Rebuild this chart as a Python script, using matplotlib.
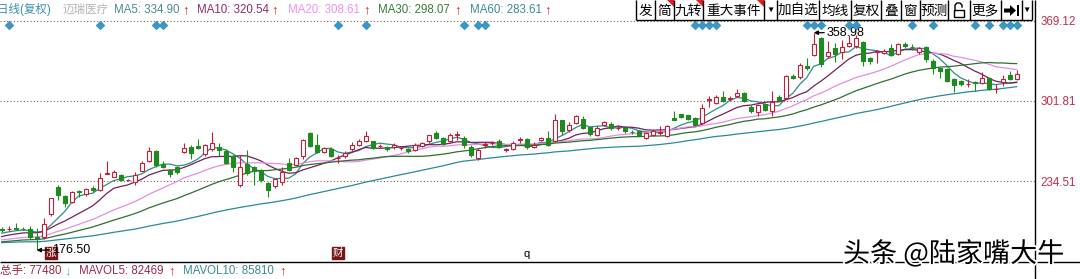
import matplotlib
import matplotlib.pyplot as plt
import matplotlib.patheffects as pe
import numpy as np
import pandas as pd
from matplotlib.patches import Polygon, Rectangle

matplotlib.use("Agg")

plt.rcParams["font.family"] = ["Liberation Sans", "Noto Sans CJK SC", "DejaVu Sans"]

# daily candles (oldest first)
opens = [194.0, 194.2, 195.2, 194.6, 194.5, 187.5, 187.8, 206.6, 229.7, 221.8,
         217.0, 225.8, 223.5, 228.9, 226.9, 240.6, 238.2, 239.6, 235.2, 233.9,
         243.2, 251.7, 259.4, 248.9, 243.8, 246.6, 259.1, 263.4, 264.0, 257.5,
         261.4, 263.4, 259.9, 255.1, 230.9, 248.9, 246.1, 243.8, 232.6, 230.3,
         233.9, 250.0, 248.0, 255.1, 274.7, 264.9, 259.1, 261.6, 253.5, 255.1,
         261.3, 264.9, 267.8, 267.8, 263.9, 263.4, 262.8, 262.2, 261.6, 260.8,
         264.1, 267.8, 274.7, 270.6, 268.4, 273.2, 270.6, 263.4, 253.7, 264.8,
         266.2, 268.4, 260.6, 261.6, 269.0, 269.7, 263.4, 268.8, 271.0, 267.8,
         285.3, 276.9, 283.4, 286.2, 279.9, 273.1, 281.7, 282.5, 279.1, 279.1,
         275.6, 276.8, 270.6, 273.5, 275.2, 272.6, 287.0, 290.4, 289.5, 287.0,
         283.4, 302.9, 300.3, 305.0, 303.5, 305.9, 308.7, 296.9, 292.3, 298.9,
         293.2, 305.4, 304.5, 322.8, 321.5, 331.3, 340.3, 354.5, 339.2, 346.0,
         342.6, 348.2, 347.7, 351.1, 337.5, 342.9, 342.0, 346.0, 341.2, 349.6,
         347.1, 342.6, 346.9, 335.5, 329.1, 328.5, 320.0, 318.6, 315.6, 317.4,
         316.6, 320.6, 311.4, 317.2, 323.4, 320.0]
highs = [195.5, 196.5, 199.0, 196.0, 196.5, 195.0, 203.8, 220.5, 231.0, 222.5,
         226.0, 227.0, 228.6, 230.0, 241.5, 250.9, 243.5, 240.5, 236.2, 242.4,
         251.0, 263.0, 260.5, 251.0, 244.5, 247.5, 266.8, 264.5, 269.8, 265.5,
         275.4, 266.5, 261.0, 256.0, 256.5, 260.2, 247.0, 245.0, 234.0, 237.0,
         246.6, 254.0, 254.5, 270.0, 275.5, 274.0, 263.0, 263.0, 256.5, 259.5,
         267.0, 270.0, 276.2, 268.5, 265.5, 264.0, 266.5, 263.5, 262.5, 266.5,
         267.5, 273.5, 276.8, 271.5, 274.5, 276.3, 272.5, 264.5, 262.0, 267.0,
         268.0, 269.5, 262.5, 268.5, 271.5, 271.0, 267.5, 271.5, 276.5, 290.4,
         286.0, 284.0, 289.5, 289.0, 281.0, 280.5, 285.0, 284.0, 281.5, 280.5,
         277.0, 277.5, 276.0, 277.5, 281.0, 281.5, 293.2, 291.0, 290.0, 288.0,
         298.9, 305.9, 306.5, 310.1, 305.5, 312.1, 309.5, 298.0, 299.0, 300.0,
         310.1, 307.0, 323.5, 324.5, 333.5, 337.5, 358.98, 355.5, 351.6, 350.0,
         352.5, 356.7, 357.0, 352.0, 338.5, 344.5, 345.0, 349.6, 350.5, 351.5,
         349.5, 347.0, 348.0, 336.5, 330.0, 329.5, 321.0, 319.5, 320.0, 318.6,
         325.7, 321.5, 315.8, 323.4, 327.1, 327.9]
lows = [191.5, 192.8, 193.0, 193.2, 185.8, 176.5, 186.0, 205.5, 218.4, 212.8,
        216.0, 221.0, 221.8, 225.5, 226.0, 240.0, 237.5, 234.5, 234.8, 231.1,
        242.5, 250.5, 246.5, 245.5, 237.6, 240.0, 258.0, 252.9, 261.0, 255.5,
        260.0, 255.7, 248.5, 242.4, 229.7, 239.5, 231.1, 234.0, 220.7, 228.5,
        231.5, 242.5, 247.0, 253.0, 263.0, 258.0, 258.0, 254.5, 249.5, 253.5,
        260.0, 264.0, 267.0, 261.0, 262.5, 260.0, 261.0, 260.5, 258.0, 259.5,
        263.0, 266.5, 269.5, 264.5, 267.0, 269.2, 262.5, 254.5, 252.5, 262.5,
        264.5, 262.0, 258.5, 260.5, 266.0, 261.5, 262.0, 268.0, 264.0, 267.0,
        273.5, 276.0, 282.5, 278.0, 272.5, 272.0, 280.5, 277.5, 277.0, 275.0,
        274.0, 272.0, 269.5, 272.5, 273.5, 271.5, 285.8, 287.5, 286.0, 280.5,
        282.5, 296.9, 299.5, 300.5, 302.0, 305.0, 300.5, 291.5, 288.9, 293.0,
        288.9, 301.5, 303.5, 320.0, 320.5, 328.0, 339.5, 329.9, 338.0, 334.1,
        337.0, 347.0, 346.5, 331.3, 332.7, 333.6, 341.0, 339.5, 340.0, 346.5,
        344.5, 341.5, 334.1, 324.3, 320.6, 317.5, 309.3, 314.5, 313.0, 310.1,
        315.5, 310.5, 308.2, 314.4, 319.0, 319.0]
closes = [193.5, 194.6, 194.6, 194.2, 187.4, 187.0, 198.7, 219.9, 222.7, 216.2,
          225.2, 225.4, 227.5, 226.9, 236.8, 241.2, 241.9, 235.4, 235.6, 239.6,
          249.9, 259.4, 248.0, 246.1, 240.4, 242.4, 261.9, 257.8, 262.0, 264.5,
          266.4, 260.8, 249.5, 246.1, 245.9, 241.0, 243.2, 235.4, 226.9, 236.0,
          242.4, 243.8, 253.7, 269.2, 264.1, 259.1, 261.9, 255.7, 253.9, 257.9,
          265.0, 267.8, 272.1, 262.2, 264.3, 261.1, 264.8, 262.4, 259.4, 265.0,
          266.4, 272.9, 270.6, 265.6, 273.4, 273.6, 264.9, 256.5, 260.8, 265.2,
          266.5, 263.4, 261.0, 266.0, 269.4, 263.4, 265.0, 271.0, 265.0, 285.3,
          276.3, 281.3, 288.7, 279.1, 274.0, 279.1, 283.9, 279.1, 279.4, 276.3,
          275.3, 273.5, 274.9, 276.3, 275.6, 280.5, 286.0, 288.4, 286.7, 281.9,
          296.1, 303.3, 305.4, 301.6, 303.9, 308.2, 301.6, 293.2, 298.0, 294.0,
          300.8, 302.5, 322.3, 320.6, 331.9, 329.1, 349.7, 332.7, 342.6, 341.2,
          346.9, 350.5, 354.5, 335.5, 335.5, 343.3, 344.0, 340.3, 349.6, 347.7,
          346.8, 346.0, 337.0, 329.1, 327.1, 318.6, 314.9, 315.8, 316.0, 317.0,
          320.6, 311.6, 311.8, 320.0, 320.0, 324.3]

# closes before the visible window, estimated from where the MA lines start
prior_closes = [184, 182, 181, 183, 185, 184, 182, 180, 181, 183,
                184, 186, 185, 183, 182, 181, 180, 182, 184, 183,
                181, 180, 179, 181, 182, 183, 184, 182, 181, 180,
                180, 181, 179, 178, 180, 182, 181, 179, 180, 181,
                181, 183, 182, 180, 181, 183, 184, 182, 181, 183,
                184, 183, 185, 186, 185, 187, 189, 190, 191, 190]

ma_periods = [5, 10, 20, 30, 60]
ma_header_values = [334.90, 320.54, 308.61, 298.07, 283.61]
price_ticks = [234.51, 301.81, 369.12]

high_day, high_price = 116, 358.98
low_day, low_price = 5, 176.50
event_days = [1, 14, 22, 23, 48, 52, 66, 68, 69, 99, 100, 101, 102, 115, 116,
              117, 121, 122, 130, 133, 139, 141, 143, 144, 145]
flag_days = [7, 48]
flag_labels = ["涨", "财"]
q_day = 75

vol_total = 77480
mavol5 = 82469
mavol10 = 85810

toolbar_labels = ["发", "简", "九转", "重大事件", "▼", "加自选", "均线", "复权",
                  "叠", "窗", "预测", "", "更多", "", "▼"]
toolbar_edges = [635.6, 654.5, 673.5, 703.4, 763.6, 777.4, 819.3, 851.3, 881.2,
                 901.2, 920.1, 947.6, 970, 1001, 1021.6, 1032]

UP = "#c0203a"
DOWN = "#1f8a1f"
MA_COLORS = ["#2f8c8c", "#74205c", "#e28ee2", "#2f6f2f", "#2a8a9a"]
HEAD_COLORS = ["#4a8a98", "#8b2e6e", "#ee92ee", "#3a7a3a", "#3a8a9a"]

W, H = 1080, 279
fig = plt.figure(figsize=(W / 100, H / 100), dpi=100)
fig.patch.set_facecolor("white")

# price panel: pixel rows 0..262, columns 0..1035
ax = fig.add_axes([0, 17 / H, 1035 / W, 262 / H])
ax.set_xlim(-1.7 / 7, (1035 - 1.7) / 7)
ax.set_ylim(386.41 - 0.8392 * 262, 386.41)
for s in ax.spines.values():
    s.set_visible(False)
ax.set_xticks([])
ax.yaxis.tick_right()
ax.set_yticks(price_ticks)
ax.set_yticklabels([f"{v:.2f}" for v in price_ticks])
ax.tick_params(axis="y", length=0, pad=4, labelsize=8.4, labelcolor="#c0304a")
ax.grid(axis="y", color="#8a5a5a", linestyle=(0, (1, 2)), linewidth=0.8)

x = np.arange(len(closes))
o = np.array(opens)
c = np.array(closes)
hi = np.array(highs)
lo = np.array(lows)
up = c >= o
top = np.maximum(o, c)
bot = np.minimum(o, c)
cols = np.where(up, UP, DOWN)

ax.vlines(x, top, hi, colors=cols, linewidth=0.8, zorder=3)
ax.vlines(x, lo, bot, colors=cols, linewidth=0.8, zorder=3)
ax.bar(x, np.maximum(top - bot, 0.05), bottom=bot, width=0.58,
       facecolor=np.where(up, "white", DOWN), edgecolor=cols, linewidth=0.8, zorder=4)

full = pd.Series(prior_closes + closes, dtype=float)
for p, col in zip(ma_periods, MA_COLORS):
    ma = full.rolling(p).mean().iloc[len(prior_closes):].to_numpy()
    ax.plot(x, ma, color=col, linewidth=0.9, zorder=2)

ax.annotate(f"{high_price:.2f}", xy=(high_day, high_price), xytext=(117.9, high_price),
            va="center", ha="left", fontsize=9, color="black", zorder=6,
            arrowprops=dict(arrowstyle="-|>", color="black", lw=0.9,
                            shrinkA=0, shrinkB=0, mutation_scale=6))
ax.annotate(f"{low_price:.2f}", xy=(low_day, low_price), xytext=(7.2, low_price),
            va="center", ha="left", fontsize=9, color="black", zorder=6,
            arrowprops=dict(arrowstyle="-|>", color="black", lw=0.9,
                            shrinkA=0, shrinkB=0, mutation_scale=6))

xtr = ax.get_xaxis_transform()
ax.scatter(event_days, [1 - 25 / 262] * len(event_days), transform=xtr, marker="D",
           s=24, color="#3a96c4", linewidths=0, zorder=6, clip_on=False)
for d, lab in zip(flag_days, flag_labels):
    ax.text(d, 1 - 253 / 262, lab, transform=xtr, ha="center", va="center",
            fontsize=7.5, color="white", zorder=5,
            bbox=dict(boxstyle="square,pad=0.08", facecolor="#7a1515", edgecolor="#7a1515"))
ax.text(q_day, 1 - 254 / 262, "q", transform=xtr, ha="center", va="center",
        fontsize=8, color="black")

# overlay in pixel units for the terminal chrome
ui = fig.add_axes([0, 0, 1, 1], zorder=5)
ui.set_xlim(0, W)
ui.set_ylim(H, 0)
ui.axis("off")
ui.patch.set_alpha(0)

ui.vlines(1035, 0, H, color="black", linewidth=1)
ui.hlines(262, 0, W, color="black", linewidth=1)

ui.text(-3, 10, "日线(复权)", color="#3a8fb0", fontsize=8.3, va="center")
ui.text(62, 10, "迈瑞医疗", color="#b4b4b4", fontsize=8.3, va="center")
ma_x = [113.6, 197, 288, 378, 470]
arrow_x = [185.8, 275, 367, 457.5, 548]
for p, v, col, tx, axx in zip(ma_periods, ma_header_values, HEAD_COLORS, ma_x, arrow_x):
    ui.text(tx, 10, f"MA{p}: {v:.2f}", color=col, fontsize=8.3, va="center")
    ui.text(axx, 10, "↑", color="#e02020", fontsize=9.5, fontweight="bold",
            va="center", ha="center")

# toolbar
ui.vlines(toolbar_edges, 0, 20, color="black", linewidth=1)
ui.hlines(20, toolbar_edges[0], toolbar_edges[-1], color="black", linewidth=1)
for lab, a, b in zip(toolbar_labels, toolbar_edges[:-1], toolbar_edges[1:]):
    if lab:
        fs = 6 if lab == "▼" else 9.8
        ui.text((a + b) / 2, 10.5, lab, ha="center", va="center", fontsize=fs,
                color="black")
for k in (1, 2, 3):
    r = toolbar_edges[k + 1]
    ui.add_patch(Polygon([(r - 7, 0), (r, 0), (r, 7)], closed=True,
                         facecolor="#e02020", edgecolor="none"))
# lock icon
ui.add_patch(Rectangle((953.5, 10), 10, 7, fill=False, edgecolor="black", lw=1))
ui.plot([955, 955, 957, 960, 962, 962], [10, 5, 3, 3, 5, 7], color="black", lw=1)
# jump-to-end icon
ui.add_patch(Polygon([(1004, 8.5), (1010, 8.5), (1010, 5), (1016, 10.5),
                      (1010, 16), (1010, 12.5), (1004, 12.5)], closed=True,
                     facecolor="black", edgecolor="none"))
ui.add_patch(Rectangle((1016.5, 5), 2, 11, facecolor="black", edgecolor="none"))

# volume panel header
ui.text(0, 271, f"总手: {vol_total}", color="#a0283c", fontsize=8.3, va="center")
ui.text(68, 271, "↓", color="#3cc8d8", fontsize=9.5, fontweight="bold", va="center",
        ha="center")
ui.text(79, 271, f"MAVOL5: {mavol5}", color="#9a2a50", fontsize=8.3, va="center")
ui.text(172, 271, "↑", color="#e02020", fontsize=9.5, fontweight="bold", va="center",
        ha="center")
ui.text(183, 271, f"MAVOL10: {mavol10}", color="#3a8a96", fontsize=8.3, va="center")
ui.text(283, 271, "↑", color="#e02020", fontsize=9.5, fontweight="bold", va="center",
        ha="center")

ui.text(843, 254, "头条 @陆家嘴大牛", fontsize=19.5, color="black", va="center",
        ha="left", family=["Noto Sans CJK SC", "DejaVu Sans"],
        path_effects=[pe.withStroke(linewidth=2.5, foreground="white")])

fig.savefig("out.png", dpi=100, facecolor="white")
